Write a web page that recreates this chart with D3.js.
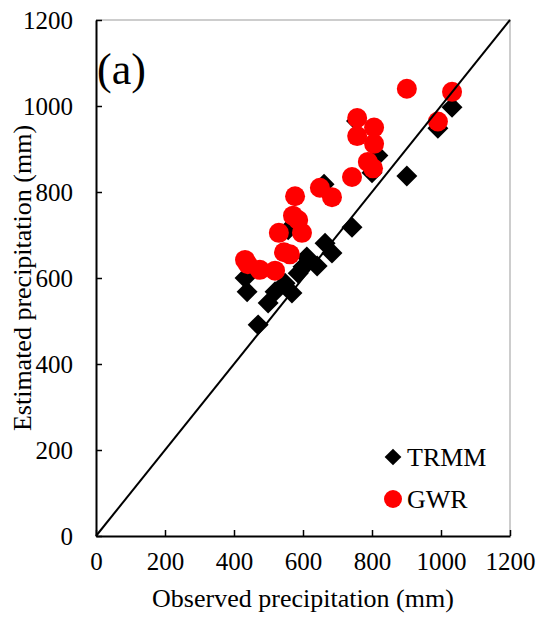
<!DOCTYPE html>
<html>
<head>
<meta charset="utf-8">
<script src="https://cdn.jsdelivr.net/npm/d3@7"></script>
<style>
  body { margin: 0; background: #fff; }
  text { font-family: "Liberation Serif", "Times New Roman", serif; fill: #000; }
</style>
</head>
<body>
<svg id="chart" width="542" height="619"></svg>
<script>
// Observed vs estimated precipitation (mm)
const trmmObs = [432, 438, 470, 499, 519, 548, 568, 586, 600, 611, 641, 557, 664, 684, 661, 742, 755, 800, 817, 901, 991, 1032];
const trmmEst = [600, 568, 491, 542, 568, 588, 565, 611, 626, 649, 628, 712, 681, 658, 818, 718, 965, 845, 885, 837, 948, 997];

const gwrObs = [432, 440, 475, 519, 545, 562, 530, 597, 571, 586, 577, 649, 684, 742, 757, 806, 757, 806, 788, 803, 901, 1032, 991];
const gwrEst = [642, 632, 619, 617, 660, 655, 705, 705, 745, 735, 790, 810, 788, 835, 972, 950, 930, 912, 870, 855, 1040, 1033, 964];

const ticks = [0, 200, 400, 600, 800, 1000, 1200];

const svg = d3.select('#chart');
const m = { left: 96, right: 32, top: 20, bottom: 83 };
const W = 542, H = 619;
const serif = '"Liberation Serif", "Times New Roman", serif';

const x = d3.scaleLinear().domain([0, 1200]).range([m.left, W - m.right]);
const y = d3.scaleLinear().domain([0, 1200]).range([H - m.bottom, m.top]);

// top / right frame (light grey)
svg.append('path')
  .attr('d', `M${x(0)},${y(1200)}H${x(1200)}V${y(0)}`)
  .attr('fill', 'none')
  .attr('stroke', '#bdbdbd')
  .attr('stroke-width', 1.5);

// axes
const xAxis = svg.append('g')
  .attr('transform', `translate(0,${y(0)})`)
  .call(d3.axisBottom(x).tickValues(ticks).tickFormat(d3.format('d'))
    .tickSizeInner(-6).tickSizeOuter(0).tickPadding(16));
const yAxis = svg.append('g')
  .attr('transform', `translate(${x(0)},0)`)
  .call(d3.axisLeft(y).tickValues(ticks).tickFormat(d3.format('d'))
    .tickSizeInner(-6).tickSizeOuter(0).tickPadding(23));

[xAxis, yAxis].forEach(g => {
  g.attr('font-family', null).attr('font-size', null);
  g.select('.domain').attr('stroke', '#000').attr('stroke-width', 2);
  g.selectAll('.tick line').attr('stroke', '#000').attr('stroke-width', 1.5);
  g.selectAll('.tick text')
    .style('font-family', serif)
    .style('font-size', '25px')
    .attr('fill', '#000');
});

// points: TRMM diamonds under GWR circles
const diamond = d3.symbol().type(d3.symbolSquare).size(220);
svg.append('g').selectAll('path')
  .data(trmmObs.map((v, i) => [v, trmmEst[i]]))
  .join('path')
  .attr('d', diamond)
  .attr('transform', d => `translate(${x(d[0])},${y(d[1])}) rotate(45)`)
  .attr('fill', '#000');

svg.append('g').selectAll('circle')
  .data(gwrObs.map((v, i) => [v, gwrEst[i]]))
  .join('circle')
  .attr('cx', d => x(d[0]))
  .attr('cy', d => y(d[1]))
  .attr('r', 10)
  .attr('fill', '#ff0000');

// 1:1 line
svg.append('line')
  .attr('x1', x(0)).attr('y1', y(0))
  .attr('x2', x(1200)).attr('y2', y(1200))
  .attr('stroke', '#000')
  .attr('stroke-width', 2);

// axis titles
svg.append('text')
  .attr('x', (x(0) + x(1200)) / 2)
  .attr('y', 607)
  .attr('text-anchor', 'middle')
  .attr('font-size', 26)
  .text('Observed precipitation (mm)');

svg.append('text')
  .attr('transform', `translate(31,${(y(0) + y(1200)) / 2}) rotate(-90)`)
  .attr('text-anchor', 'middle')
  .attr('font-size', 26)
  .text('Estimated precipitation (mm)');

// panel label
svg.append('text')
  .attr('x', 97)
  .attr('y', 84)
  .attr('font-size', 44)
  .text('(a)');

// legend
const legend = svg.append('g').attr('transform', 'translate(393,0)');
legend.append('path')
  .attr('d', d3.symbol().type(d3.symbolSquare).size(140))
  .attr('transform', 'translate(0,457) rotate(45)')
  .attr('fill', '#000');
legend.append('text').attr('x', 14).attr('y', 466).attr('font-size', 26).text('TRMM');
legend.append('circle').attr('cx', 0).attr('cy', 499).attr('r', 9).attr('fill', '#ff0000');
legend.append('text').attr('x', 14).attr('y', 508).attr('font-size', 26).text('GWR');
</script>
</body>
</html>
